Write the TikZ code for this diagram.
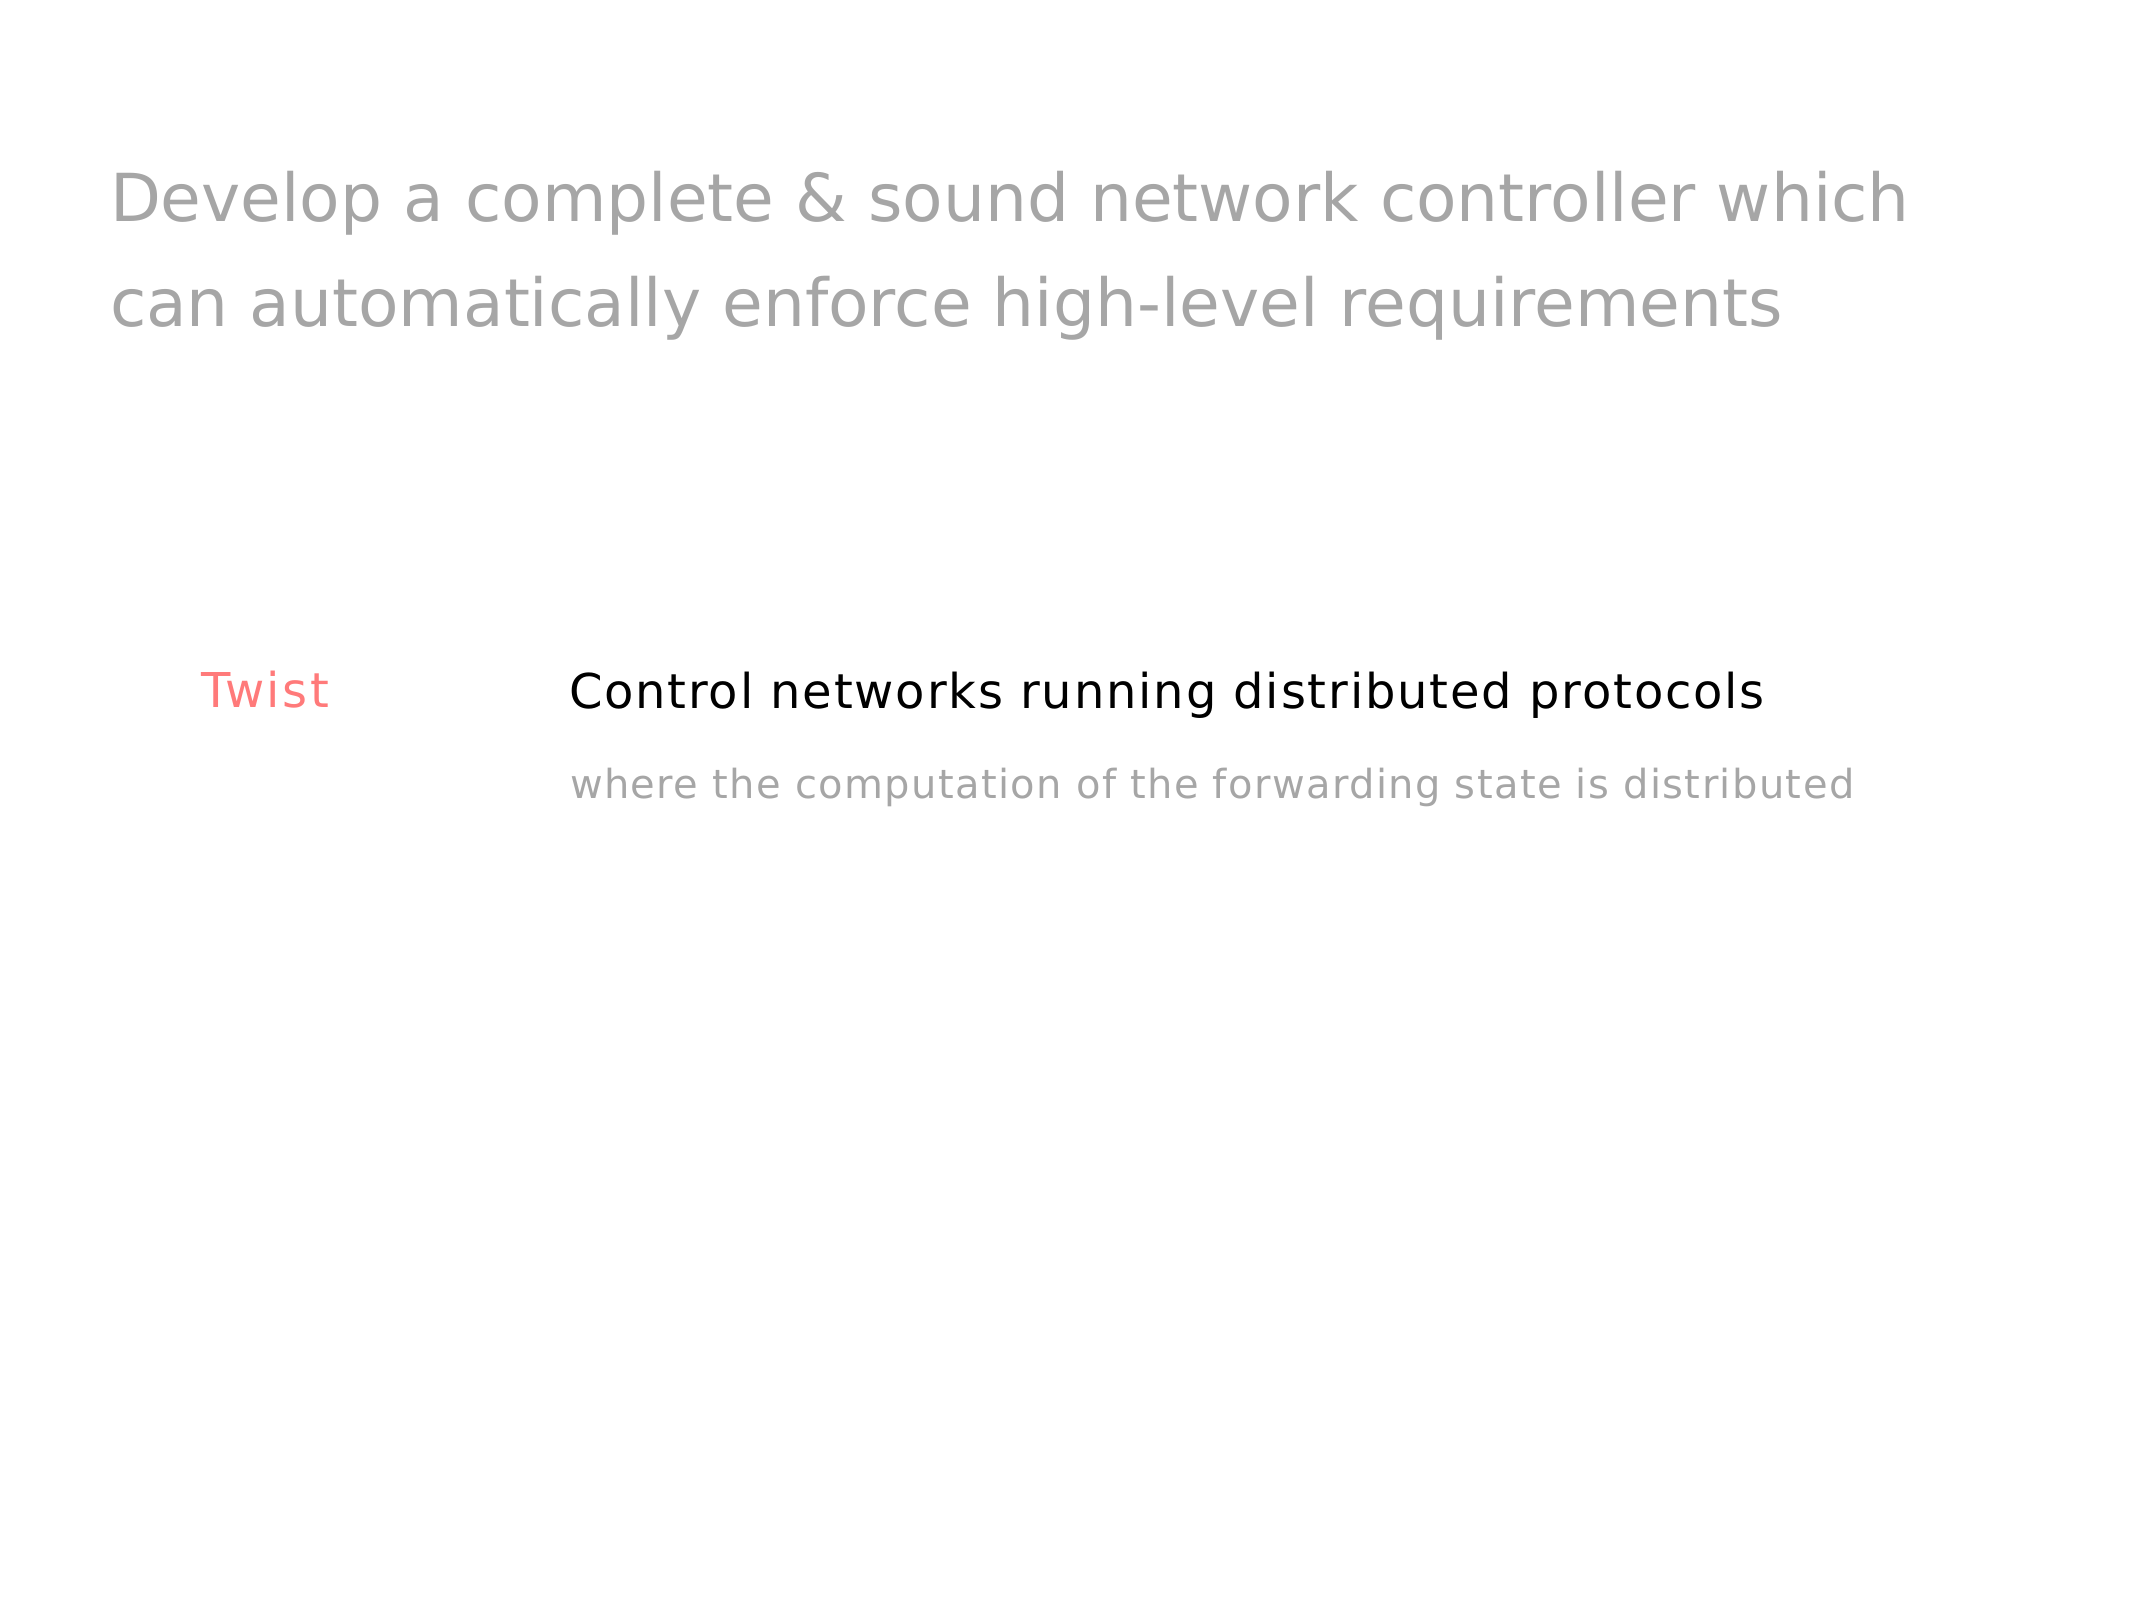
\documentclass[tikz,border=0pt]{standalone}
\usepackage{fontspec}
\setmainfont{DejaVu Sans}
\definecolor{titlegray}{RGB}{166,166,166}
\definecolor{twistred}{RGB}{255,122,122}
\definecolor{maintext}{RGB}{0,0,0}
\begin{document}
\begin{tikzpicture}[x=0.5pt,y=-0.5pt,
  txt/.style={inner sep=0pt,outer sep=0pt,anchor=base west},
  title/.style={txt,text=titlegray,font=\fontsize{33.1}{40}\selectfont},
  label/.style={txt,text=twistred,font=\fontsize{24}{28}\selectfont\addfontfeature{LetterSpace=5.5}},
  head/.style={txt,text=maintext,font=\fontsize{24}{28}\selectfont\addfontfeature{LetterSpace=3.8}},
  sub/.style={txt,text=titlegray,font=\fontsize{20}{24}\selectfont\addfontfeature{LetterSpace=3.5}}]
\useasboundingbox (0,0) rectangle (2134,1600);
\node[title] (t1) at (110,221) {Develop a complete \& sound network controller which};
\node[title] (t2) at (110,326) {can automatically enforce high-level requirements};
\node[label] (tw) at (201,707) {Twist};
\node[head] (hd) at (569,708) {Control networks running distributed protocols};
\node[sub] (sb) at (570,798) {where the computation of the forwarding state is distributed};
\end{tikzpicture}
\end{document}
